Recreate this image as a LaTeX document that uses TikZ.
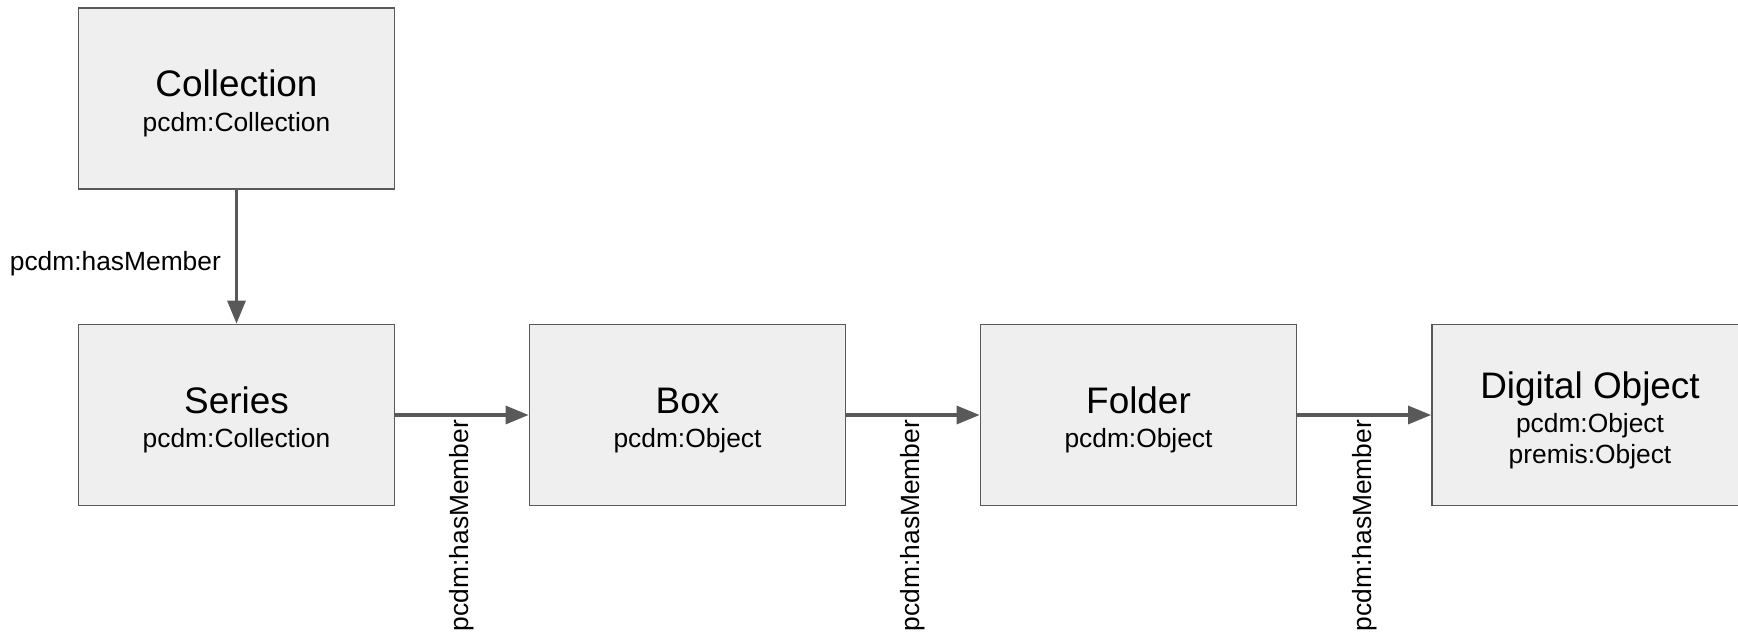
\documentclass[tikz,border=0pt]{standalone}
\usepackage{fontspec}
\setmainfont{Liberation Sans}
\usetikzlibrary{arrows.meta}
\definecolor{boxfill}{HTML}{EFEFEF}
\definecolor{linegray}{HTML}{595959}
\newcommand{\titletext}[1]{\rule{0pt}{21pt}{\fontsize{21}{17.4}\selectfont #1}\\[2.2pt]}
\tikzset{
  entity/.style={draw=linegray, fill=boxfill, line width=1pt,
    minimum width=6.32cm, minimum height=3.62cm, align=center,
    font=\fontsize{15}{17.4}\selectfont},
  hasmember/.style={draw=linegray, line width=1.8pt,
    -{Triangle[length=0.46cm,width=0.36cm]}},
  sidelabel/.style={font=\fontsize{15}{18}\selectfont, inner sep=3pt},
}
\begin{document}
\begin{tikzpicture}
      \useasboundingbox (0,0) rectangle (34.76,-12.76);
      \draw
        (4.73,-1.97) node[entity] (collection){\titletext{Collection}pcdm:Collection}
        (4.73,-8.30) node[entity] (series){\titletext{Series}pcdm:Collection}
        (13.75,-8.30) node[entity] (box){\titletext{Box}pcdm:Object}
        (22.77,-8.30) node[entity] (folder){\titletext{Folder}pcdm:Object}
        (31.80,-8.30) node[entity] (digital){\titletext{Digital Object}pcdm:Object\\premis:Object};
      \begin{scope}[hasmember]
        \draw (collection) to node[sidelabel, pos=0.55, left=5pt] {pcdm:hasMember} (series);
        \draw (series) to node[sidelabel, midway, rotate=90, anchor=east, xshift=1pt] {pcdm:hasMember} (box);
        \draw (box) to node[sidelabel, midway, rotate=90, anchor=east, xshift=1pt] {pcdm:hasMember} (folder);
        \draw (folder) to node[sidelabel, midway, rotate=90, anchor=east, xshift=1pt] {pcdm:hasMember} (digital);
      \end{scope}
    \end{tikzpicture}
\end{document}
